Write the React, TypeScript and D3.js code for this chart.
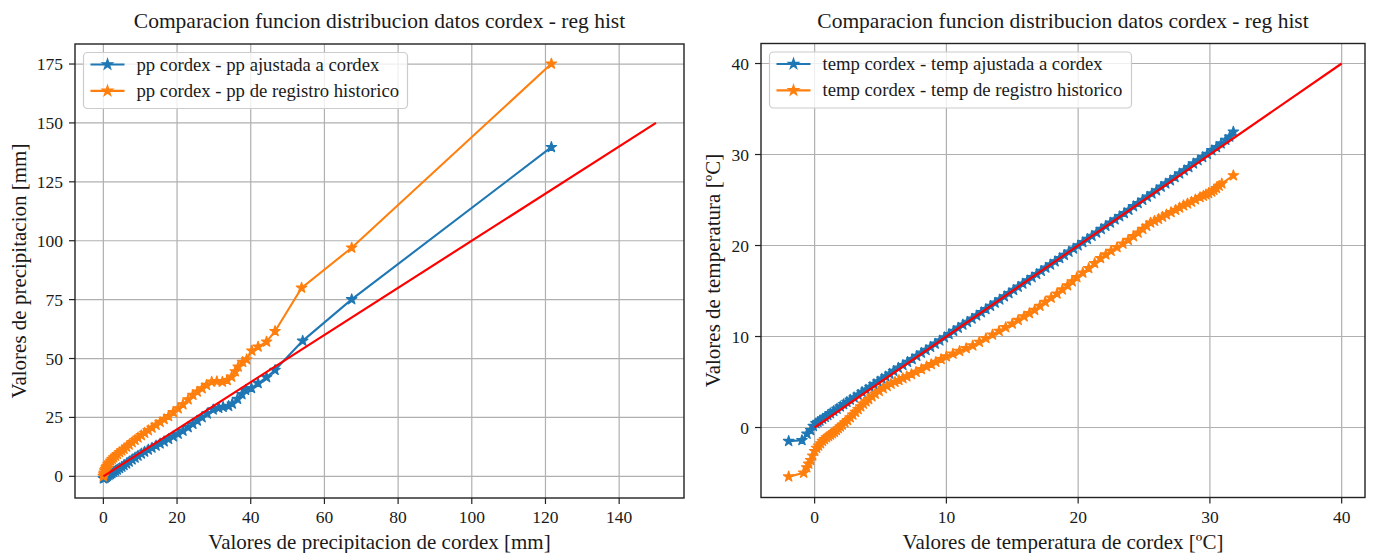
import React from "react";
import * as d3 from "d3";

// ---------- data ----------
const ppAjustX = [0, 0.2, 0.5, 0.8, 1.1, 1.5, 1.9, 2.3, 2.8, 3.3, 3.8, 4.4, 5.0, 5.6, 6.3, 7.0, 7.8, 8.6, 9.4, 10.3, 11.2, 12.2, 13.2, 14.3, 15.4, 16.5, 17.7, 19.0, 20.3, 21.6, 23.0, 24.3, 25.5, 26.8, 28.2, 29.8, 31.3, 32.5, 34.0, 35.0, 36.4, 37.6, 38.6, 40.2, 42.0, 44.3, 46.6, 54.1, 67.4, 121.6];
const ppAjustY = [-0.9, -0.8, -0.6, -0.3, 0.1, 0.5, 0.9, 1.3, 1.8, 2.3, 2.8, 3.4, 4.0, 4.7, 5.4, 6.2, 7.1, 7.9, 8.7, 9.6, 10.4, 11.3, 12.1, 13.0, 13.9, 14.8, 15.8, 16.9, 18.0, 19.3, 20.8, 22.2, 23.6, 25.0, 26.6, 28.3, 29.0, 29.4, 29.8, 30.8, 32.8, 34.8, 36.6, 37.4, 39.5, 42.0, 45.1, 57.5, 75.1, 139.7];

const ppHistX = [0, 0.1, 0.2, 0.4, 0.6, 0.8, 1.0, 1.3, 1.6, 2.0, 2.4, 2.8, 3.3, 3.8, 4.4, 5.0, 5.6, 6.3, 7.0, 7.8, 8.6, 9.4, 10.3, 11.2, 12.2, 13.2, 14.3, 15.4, 16.5, 17.7, 19.0, 20.3, 21.6, 23.0, 24.3, 25.5, 26.8, 28.0, 29.4, 30.8, 32.3, 33.6, 34.8, 35.8, 36.6, 37.8, 38.9, 40.3, 42.0, 44.3, 46.6, 53.8, 67.4, 121.6];
const ppHistY = [0.0, 0.8, 1.5, 2.4, 3.1, 3.8, 4.4, 5.1, 5.8, 6.6, 7.3, 8.0, 8.7, 9.4, 10.2, 10.9, 11.6, 12.5, 13.4, 14.4, 15.4, 16.4, 17.4, 18.4, 19.5, 20.6, 21.8, 23.0, 24.2, 25.5, 27.2, 28.8, 30.5, 32.6, 34.5, 35.9, 37.3, 38.7, 40.1, 40.3, 40.1, 40.8, 42.2, 44.5, 46.5, 48.5, 49.6, 53.3, 55.0, 57.1, 61.6, 80.0, 97.0, 175.1];

const tempAjustX = [-1.97, -0.96, -0.58, -0.3, -0.1, 0.1, 0.25, 0.4, 0.6, 0.8, 1.0, 1.2, 1.45, 1.7, 1.95, 2.2, 2.45, 2.7, 3.0, 3.3, 3.6, 3.9, 4.2, 4.5, 4.8, 5.1, 5.4, 5.7, 6.0, 6.35, 6.7, 7.05, 7.4, 7.75, 8.1, 8.45, 8.8, 9.15, 9.5, 9.85, 10.2, 10.55, 10.9, 11.25, 11.6, 11.95, 12.3, 12.65, 13.0, 13.35, 13.7, 14.05, 14.4, 14.75, 15.1, 15.45, 15.8, 16.15, 16.5, 16.85, 17.2, 17.55, 17.9, 18.25, 18.6, 18.95, 19.3, 19.65, 20.0, 20.35, 20.7, 21.05, 21.4, 21.75, 22.1, 22.45, 22.8, 23.15, 23.5, 23.85, 24.2, 24.55, 24.9, 25.25, 25.6, 25.95, 26.3, 26.65, 27.0, 27.35, 27.7, 28.05, 28.4, 28.75, 29.1, 29.45, 29.8, 30.15, 30.5, 30.85, 31.2, 31.5, 31.78];
const tempAjustY = [-1.5, -1.4, -0.7, -0.3, 0.15, 0.45, 0.6, 0.75, 0.95, 1.15, 1.35, 1.55, 1.8, 2.05, 2.3, 2.55, 2.8, 3.05, 3.3, 3.6, 3.9, 4.15, 4.45, 4.75, 5.05, 5.35, 5.6, 5.9, 6.2, 6.55, 6.85, 7.2, 7.5, 7.85, 8.2, 8.5, 8.85, 9.2, 9.55, 9.9, 10.25, 10.6, 10.95, 11.3, 11.6, 11.95, 12.3, 12.65, 13.0, 13.35, 13.7, 14.05, 14.4, 14.75, 15.1, 15.45, 15.8, 16.15, 16.5, 16.85, 17.2, 17.55, 17.9, 18.25, 18.6, 18.95, 19.3, 19.65, 20.0, 20.35, 20.7, 21.05, 21.4, 21.8, 22.15, 22.5, 22.85, 23.2, 23.55, 23.9, 24.3, 24.65, 25.0, 25.35, 25.7, 26.05, 26.45, 26.8, 27.15, 27.5, 27.9, 28.25, 28.6, 29.0, 29.35, 29.7, 30.05, 30.45, 30.8, 31.2, 31.6, 31.95, 32.5];

const tempHistX = [-1.97, -0.83, -0.6, -0.45, -0.3, -0.15, 0.0, 0.15, 0.3, 0.45, 0.6, 0.75, 0.9, 1.05, 1.2, 1.35, 1.5, 1.65, 1.8, 1.95, 2.1, 2.3, 2.5, 2.7, 2.9, 3.1, 3.3, 3.5, 3.7, 3.9, 4.1, 4.35, 4.6, 4.9, 5.2, 5.5, 5.8, 6.1, 6.4, 6.7, 7.0, 7.35, 7.7, 8.1, 8.5, 8.85, 9.2, 9.6, 10.0, 10.5, 11.0, 11.5, 12.0, 12.5, 13.0, 13.5, 14.0, 14.5, 15.0, 15.45, 15.9, 16.3, 16.7, 17.1, 17.5, 17.95, 18.4, 18.8, 19.2, 19.55, 19.9, 20.35, 20.8, 21.25, 21.7, 22.1, 22.5, 22.95, 23.4, 23.8, 24.2, 24.55, 24.9, 25.2, 25.5, 25.8, 26.1, 26.4, 26.7, 27.05, 27.4, 27.7, 28.0, 28.3, 28.6, 28.9, 29.25, 29.5, 29.7, 29.9, 30.14, 30.3, 30.5, 30.7, 30.9, 31.78];
const tempHistY = [-5.4, -4.98, -4.4, -4.0, -3.6, -3.1, -2.6, -2.25, -2.0, -1.75, -1.5, -1.3, -1.1, -0.95, -0.8, -0.65, -0.5, -0.3, -0.1, 0.1, 0.3, 0.55, 0.8, 1.1, 1.4, 1.7, 2.0, 2.3, 2.6, 2.85, 3.1, 3.4, 3.7, 4.0, 4.3, 4.55, 4.8, 5.0, 5.2, 5.4, 5.6, 5.85, 6.1, 6.4, 6.7, 6.95, 7.2, 7.5, 7.8, 8.1, 8.4, 8.7, 9.0, 9.4, 9.8, 10.2, 10.6, 11.0, 11.4, 11.8, 12.2, 12.55, 12.9, 13.35, 13.8, 14.25, 14.7, 15.15, 15.6, 16.05, 16.5, 17.0, 17.5, 18.05, 18.6, 19.0, 19.4, 19.8, 20.2, 20.6, 21.0, 21.4, 21.8, 22.15, 22.5, 22.7, 22.9, 23.15, 23.4, 23.65, 23.9, 24.15, 24.4, 24.6, 24.8, 25.05, 25.3, 25.45, 25.6, 25.75, 25.9, 26.1, 26.3, 26.55, 26.8, 27.7];

const refLinePP = [0, 150];
const refLineTemp = [0, 40];

const ppXTicks = [0, 20, 40, 60, 80, 100, 120, 140];
const ppYTicks = [0, 25, 50, 75, 100, 125, 150, 175];
const tempXTicks = [0, 10, 20, 30, 40];
const tempYTicks = [0, 10, 20, 30, 40];

const titleText = "Comparacion funcion distribucion datos cordex - reg hist";
const ppLegend = ["pp cordex - pp ajustada a cordex", "pp cordex - pp de registro historico"];
const tempLegend = ["temp cordex - temp ajustada a cordex", "temp cordex - temp de registro historico"];

// ---------- style ----------
const BLUE = "#1f77b4";
const ORANGE = "#ff7f0e";
const RED = "#ff0000";
const FONT = "'Liberation Serif', 'Times New Roman', serif";
const TEXT = "#1a1a1a";

type Series = { xs: number[]; ys: number[]; color: string };

type PanelProps = {
  box: { x0: number; x1: number; y0: number; y1: number };
  xDomain: [number, number];
  yDomain: [number, number];
  xTicks: number[];
  yTicks: number[];
  series: Series[];
  refLine: number[];
  xLabel: string;
  yLabel: string;
  yLabelX: number;
  legendLabels: string[];
  legendWidth: number;
};

const star = d3.symbol().type(d3.symbolStar).size(34)() as string;

function Panel(p: PanelProps) {
  const { box } = p;
  const x = d3.scaleLinear().domain(p.xDomain).range([box.x0, box.x1]);
  const y = d3.scaleLinear().domain(p.yDomain).range([box.y1, box.y0]);
  const line = d3
    .line<[number, number]>()
    .x((d) => x(d[0]))
    .y((d) => y(d[1]));
  const cx = (box.x0 + box.x1) / 2;
  const cy = (box.y0 + box.y1) / 2;
  const lgX = box.x0 + 8.5;
  const lgY = box.y0 + 8.5;
  return (
    <g>
      {p.xTicks.map((t) => (
        <line key={"gx" + t} x1={x(t)} x2={x(t)} y1={box.y0} y2={box.y1} stroke="#b0b0b0" strokeWidth={1.2} />
      ))}
      {p.yTicks.map((t) => (
        <line key={"gy" + t} x1={box.x0} x2={box.x1} y1={y(t)} y2={y(t)} stroke="#b0b0b0" strokeWidth={1.2} />
      ))}
      {p.series.map((s, i) => {
        const pts = s.xs.map((v, j) => [v, s.ys[j]] as [number, number]);
        return (
          <g key={"s" + i}>
            <path d={line(pts) || ""} fill="none" stroke={s.color} strokeWidth={2.1} />
            {pts.map((d, j) => (
              <path
                key={j}
                d={star}
                transform={`translate(${x(d[0])},${y(d[1])})`}
                fill={s.color}
                stroke={s.color}
                strokeWidth={1.2}
                strokeLinejoin="round"
              />
            ))}
          </g>
        );
      })}
      <path
        d={line([[p.refLine[0], p.refLine[0]], [p.refLine[1], p.refLine[1]]]) || ""}
        fill="none"
        stroke={RED}
        strokeWidth={2.2}
      />
      <rect x={box.x0} y={box.y0} width={box.x1 - box.x0} height={box.y1 - box.y0} fill="none" stroke="#222" strokeWidth={1.4} />
      {p.xTicks.map((t) => (
        <g key={"tx" + t}>
          <line x1={x(t)} x2={x(t)} y1={box.y1} y2={box.y1 + 6} stroke="#222" strokeWidth={1.2} />
          <text x={x(t)} y={box.y1 + 25} textAnchor="middle" fontFamily={FONT} fontSize={17.5} fill={TEXT}>
            {t}
          </text>
        </g>
      ))}
      {p.yTicks.map((t) => (
        <g key={"ty" + t}>
          <line x1={box.x0 - 6} x2={box.x0} y1={y(t)} y2={y(t)} stroke="#222" strokeWidth={1.2} />
          <text x={box.x0 - 12} y={y(t) + 6} textAnchor="end" fontFamily={FONT} fontSize={17.5} fill={TEXT}>
            {t}
          </text>
        </g>
      ))}
      <rect x={lgX} y={lgY} width={p.legendWidth} height={56} rx={4} fill="white" fillOpacity={0.8} stroke="#cccccc" strokeWidth={1.2} />
      {p.legendLabels.map((lab, i) => {
        const ly = lgY + 12 + i * 26.4;
        const color = p.series[i].color;
        return (
          <g key={"lg" + i}>
            <line x1={lgX + 7} x2={lgX + 41} y1={ly} y2={ly} stroke={color} strokeWidth={2.1} />
            <path d={star} transform={`translate(${lgX + 24},${ly})`} fill={color} stroke={color} strokeWidth={1.2} />
            <text x={lgX + 53} y={ly + 6} fontFamily={FONT} fontSize={18.7} fill={TEXT}>
              {lab}
            </text>
          </g>
        );
      })}
      <text x={cx} y={28} textAnchor="middle" fontFamily={FONT} fontSize={21.5} fill={TEXT}>
        {titleText}
      </text>
      <text x={cx} y={549} textAnchor="middle" fontFamily={FONT} fontSize={21} fill={TEXT}>
        {p.xLabel}
      </text>
      <text
        transform={`translate(${p.yLabelX},${cy}) rotate(-90)`}
        textAnchor="middle"
        fontFamily={FONT}
        fontSize={21}
        fill={TEXT}
      >
        {p.yLabel}
      </text>
    </g>
  );
}

export default function App() {
  return (
    <svg width={1375} height={553} style={{ position: "absolute", left: 0, top: 0, background: "white" }}>
      <rect width={1375} height={553} fill="white" />
      <Panel
        box={{ x0: 75, x1: 684, y0: 44, y1: 498 }}
        xDomain={[-7.7, 157.6]}
        yDomain={[-9.2, 183.5]}
        xTicks={ppXTicks}
        yTicks={ppYTicks}
        series={[
          { xs: ppAjustX, ys: ppAjustY, color: BLUE },
          { xs: ppHistX, ys: ppHistY, color: ORANGE },
        ]}
        refLine={refLinePP}
        xLabel="Valores de precipitacion de cordex [mm]"
        yLabel="Valores de precipitacion [mm]"
        yLabelX={26}
        legendLabels={ppLegend}
        legendWidth={324}
      />
      <Panel
        box={{ x0: 761, x1: 1365, y0: 43.5, y1: 497.5 }}
        xDomain={[-4.07, 41.77]}
        yDomain={[-7.69, 42.2]}
        xTicks={tempXTicks}
        yTicks={tempYTicks}
        series={[
          { xs: tempAjustX, ys: tempAjustY, color: BLUE },
          { xs: tempHistX, ys: tempHistY, color: ORANGE },
        ]}
        refLine={refLineTemp}
        xLabel="Valores de temperatura de cordex [ºC]"
        yLabel="Valores de temperatura [ºC]"
        yLabelX={720}
        legendLabels={tempLegend}
        legendWidth={362}
      />
    </svg>
  );
}
